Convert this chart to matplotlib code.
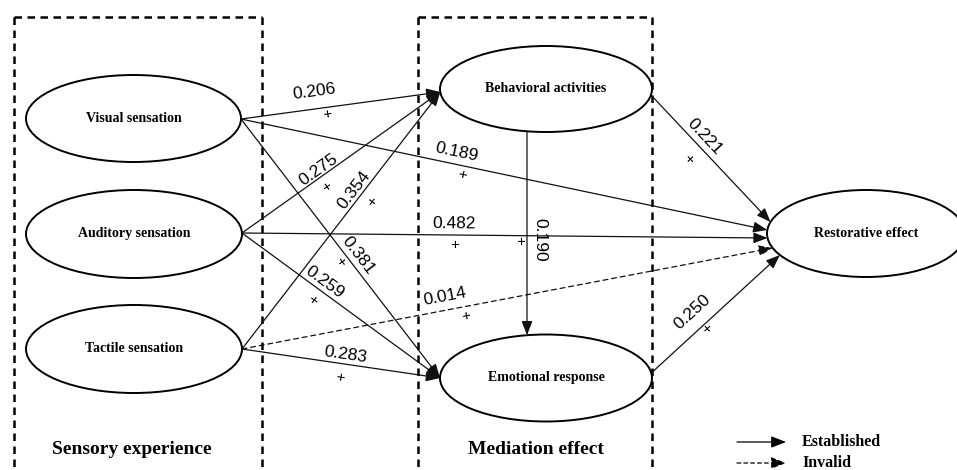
import math
import matplotlib
matplotlib.use("Agg")
import matplotlib.pyplot as plt
from matplotlib.patches import Ellipse

# ---------------- data ----------------
node_names = ["Visual sensation", "Auditory sensation", "Tactile sensation",
              "Behavioral activities", "Emotional response", "Restorative effect"]
group_names = ["Sensory experience", "Mediation effect"]

edge_from = ["Visual sensation", "Auditory sensation", "Tactile sensation",
             "Visual sensation", "Auditory sensation", "Tactile sensation",
             "Visual sensation", "Auditory sensation", "Tactile sensation",
             "Behavioral activities", "Emotional response", "Behavioral activities"]
edge_to = ["Behavioral activities", "Behavioral activities", "Behavioral activities",
           "Restorative effect", "Restorative effect", "Restorative effect",
           "Emotional response", "Emotional response", "Emotional response",
           "Restorative effect", "Restorative effect", "Emotional response"]
coefficients = [0.206, 0.275, 0.354, 0.189, 0.482, 0.014,
                0.381, 0.259, 0.283, 0.221, 0.250, 0.190]
signs = ["+"] * 12
established = [True, True, True, True, True, False,
               True, True, True, True, True, True]
legend_labels = ["Established", "Invalid"]

# ---------------- layout (pixels) ----------------
W, H = 957, 470
node_geom = {  # center x, center y, width, height
    "Visual sensation": (133.5, 118.5, 215, 87),
    "Auditory sensation": (134, 234, 216, 88),
    "Tactile sensation": (134, 349, 216, 88),
    "Behavioral activities": (546, 89, 212, 86),
    "Emotional response": (546, 378, 212, 87),
    "Restorative effect": (866, 233.5, 198, 87),
}
# anchor spec per edge: (side, offset) for source and target
src_anchor = [("R", 0.5), ("R", -1), ("R", 0), ("R", 0.5), ("R", -1), ("R", 0),
              ("R", 0.5), ("R", -1), ("R", 0), ("R", 6), ("R", -5), ("B", -19)]
tgt_anchor = [("L", 3), ("L", 3), ("L", 3), ("L", -3.5), ("L", 4.5), ("L", 14.5),
              ("L", 0), ("L", 0), ("L", 0), ("L", -11.5), ("L", 21.5), ("T", -19)]
label_xy = [(314, 92), (318, 170), (354, 190), (457, 152), (454, 224), (445, 297),
            (358, 256), (325, 282), (345, 355), (705, 137), (692, 312), (540, 240)]
sign_xy = [(327, 114), (327, 187), (373, 202), (462, 175), (455, 245), (466, 316),
           (340, 262), (313, 300), (340, 378), (688, 159), (707, 329), (519, 240)]
boxes = [(14, 262), (418, 652)]
box_top = 17
group_label_xy = [(132, 450), (536, 450)]


def anchor(name, side, off):
    cx, cy, w, h = node_geom[name]
    a, b = w / 2, h / 2
    if side in ("R", "L"):
        dx = a * math.sqrt(max(0.0, 1 - (off / b) ** 2))
        return (cx + dx, cy + off) if side == "R" else (cx - dx, cy + off)
    dy = b * math.sqrt(max(0.0, 1 - (off / a) ** 2))
    return (cx + off, cy + dy) if side == "B" else (cx + off, cy - dy)


serif = "Liberation Serif"
sans = "Liberation Sans"

fig = plt.figure(figsize=(W / 100, H / 100), dpi=100)
ax = fig.add_axes([0, 0, 1, 1])
ax.set_xlim(0, W)
ax.set_ylim(H, 0)
ax.axis("off")

# dashed group boxes
for (x0, x1) in boxes:
    kw = dict(color="black", lw=1.8, linestyle=(0, (3, 2.2)), zorder=1,
              solid_capstyle="butt")
    ax.plot([x0, x0], [box_top, H + 5], **kw)
    ax.plot([x1, x1], [box_top, H + 5], **kw)
    ax.plot([x0, x1], [box_top, box_top], **kw)

# edges
for i in range(len(coefficients)):
    p0 = anchor(edge_from[i], *src_anchor[i])
    p1 = anchor(edge_to[i], *tgt_anchor[i])
    ls = "-" if established[i] else (0, (4, 3))
    ax.annotate("", xy=p1, xytext=p0,
                arrowprops=dict(arrowstyle="-|>,head_length=0.85,head_width=0.33",
                                lw=0.9, color="#111111", linestyle=ls,
                                shrinkA=0, shrinkB=0),
                zorder=2)
    ang = math.degrees(math.atan2(-(p1[1] - p0[1]), p1[0] - p0[0]))
    lx, ly = label_xy[i]
    ax.text(lx, ly, f"{coefficients[i]:.3f}", family=sans, fontsize=12.5,
            rotation=ang, rotation_mode="anchor", ha="center", va="center", zorder=5)
    sx, sy = sign_xy[i]
    ax.text(sx, sy, signs[i], family=sans, fontsize=11,
            rotation=ang, rotation_mode="anchor", ha="center", va="center", zorder=5)

# nodes
for name in node_names:
    cx, cy, w, h = node_geom[name]
    ax.add_patch(Ellipse((cx, cy), w, h, facecolor="white", edgecolor="black",
                         lw=1.4, zorder=3))
    ax.text(cx, cy, name, family=serif, weight="bold", fontsize=10,
            ha="center", va="center", zorder=4)

# group labels
for (gx, gy), g in zip(group_label_xy, group_names):
    ax.text(gx, gy, g, family=serif, weight="bold", fontsize=14,
            ha="center", va="center", zorder=4)

# legend
for k, (lab, ok) in enumerate(zip(legend_labels, [True, False])):
    y = 442 + 21 * k
    ax.annotate("", xy=(786, y), xytext=(737, y),
                arrowprops=dict(arrowstyle="-|>,head_length=0.9,head_width=0.35",
                                lw=0.9, color="black",
                                linestyle="-" if ok else (0, (3, 2.5)),
                                shrinkA=0, shrinkB=0))
    ax.text(802, y, lab, family=serif, weight="bold", fontsize=11.5,
            ha="left", va="center")

fig.savefig("out.png", dpi=100, facecolor="white")
